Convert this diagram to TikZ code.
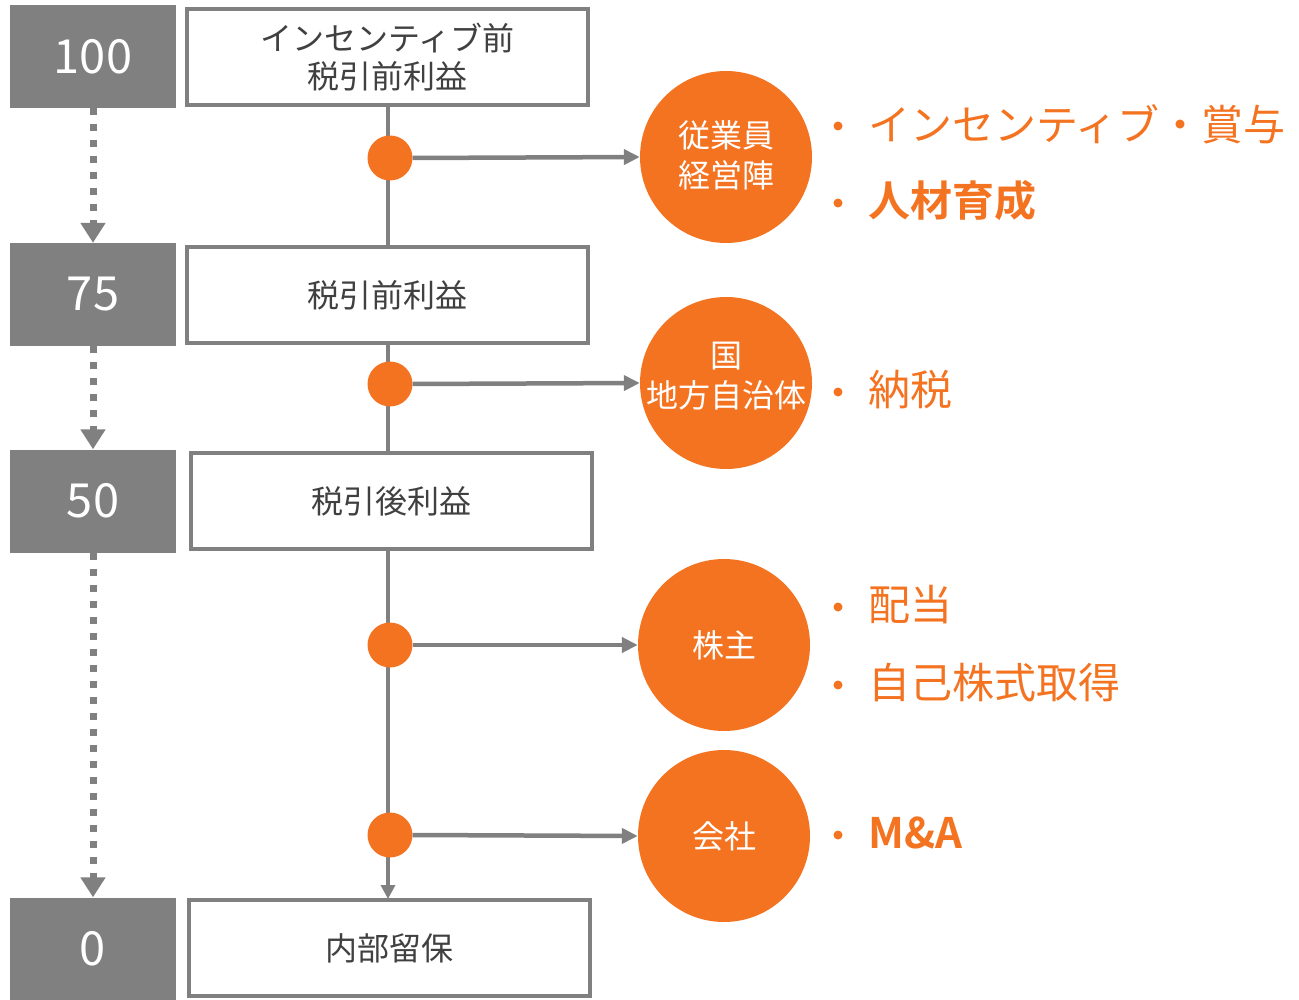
\documentclass[tikz,border=0pt]{standalone}
\usepackage{fontspec}
\setmainfont{Noto Sans CJK JP}
\newfontfamily\jpbold{Noto Sans CJK JP Bold}
\usetikzlibrary{arrows.meta}
\definecolor{og}{HTML}{F47321}
\definecolor{gy}{HTML}{808080}
\definecolor{tx}{HTML}{404040}
\tikzset{
  numbox/.style={fill=gy, draw=none, minimum width=166pt, minimum height=103pt, text=white, font=\fontsize{47}{52}\selectfont, inner sep=0pt},
  stagebox/.style={draw=gy, line width=4.5pt, fill=white, minimum width=401pt, minimum height=96pt, text=tx, font=\fontsize{32}{38}\selectfont, align=center, inner sep=0pt},
  dotnode/.style={circle, fill=og, minimum size=45pt, inner sep=0pt},
  bigcircle/.style={circle, fill=og, minimum size=172pt, inner sep=0pt},
  circtext/.style={text=white, font=\fontsize{32}{40}\selectfont, align=center, inner sep=0pt},
  flow/.style={draw=gy, line width=4.5pt},
  harrow/.style={flow, -{Triangle[length=16pt,width=15pt]}},
  dotarrow/.style={draw=gy, line width=7pt, dash pattern=on 7pt off 9pt, -{Triangle[length=20pt,width=24pt]}},
  bullet/.style={anchor=west, text=og, font=\fontsize{42}{46}\selectfont, inner sep=0pt},
  bulletdot/.style={circle, fill=og, minimum size=9pt, inner sep=0pt}
}
\begin{document}
\begin{tikzpicture}[x=1pt,y=-1pt]
\useasboundingbox (0,0) rectangle (1299,1000);
% number boxes
\node[numbox] (n100) at (93,56.5) {100};
\node[numbox] (n75) at (93,294.5) {75};
\node[numbox] (n50) at (93,501) {50};
\node[numbox] (n0) at (93,949) {0};
% stage boxes
\node[stagebox] (s1) at (387.5,57) {インセンティブ前\\税引前利益};
\node[stagebox] (s2) at (387.5,295) {税引前利益};
\node[stagebox] (s3) at (391.5,501) {税引後利益};
\node[stagebox] (s4) at (389.5,948) {内部留保};
% dotted arrows
\draw[dotarrow] (n100.south) -- (n75.north);
\draw[dotarrow] (n75.south) -- (n50.north);
\draw[dotarrow] (n50.south) -- (n0.north);
% junction coordinates
\coordinate (j1) at (390,158);
\coordinate (j2) at (390,384);
\coordinate (j3) at (390,645);
\coordinate (j4) at (390,835);
% vertical flow lines
\draw[flow] (388,107) -- (388,245);
\draw[flow] (388,345) -- (388,451);
\draw[flow, -{Triangle[length=14pt,width=14pt]}] (388,551) -- (388,899);
% big circles
\node[bigcircle, label={[circtext, yshift=2pt]center:従業員\\経営陣}] (c1) at (726,157) {};
\node[bigcircle, label={[circtext, yshift=7pt]center:国\\地方自治体}] (c2) at (726,383) {};
\node[bigcircle, label={[circtext]center:株主}] (c3) at (724,645) {};
\node[bigcircle, label={[circtext]center:会社}] (c4) at (724,836) {};
% junction dots
\node[dotnode] (d1) at (j1) {};
\node[dotnode] (d2) at (j2) {};
\node[dotnode] (d3) at (j3) {};
\node[dotnode] (d4) at (j4) {};
% horizontal arrows
\draw[harrow] (d1.east) -- (c1.west);
\draw[harrow] (d2.east) -- (c2.west);
\draw[harrow] (d3.east) -- (c3.west);
\draw[harrow] (d4.east) -- (c4.west);
% bullets
\node[bulletdot] (b1) at (838,126) {};
\node[bullet] (t1) at (868,124) {インセンティブ・賞与};
\node[bulletdot] (b2) at (838,203) {};
\node[bullet] (t2) at (868,201) {\jpbold 人材育成};
\node[bulletdot] (b3) at (838,392) {};
\node[bullet] (t3) at (868,390) {納税};
\node[bulletdot] (b4) at (838,607) {};
\node[bullet] (t4) at (868,605) {配当};
\node[bulletdot] (b5) at (838,685) {};
\node[bullet] (t5) at (868,683) {自己株式取得};
\node[bulletdot] (b6) at (838,835) {};
\node[bullet] (t6) at (868,833) {\jpbold M\&A};
\end{tikzpicture}
\end{document}
